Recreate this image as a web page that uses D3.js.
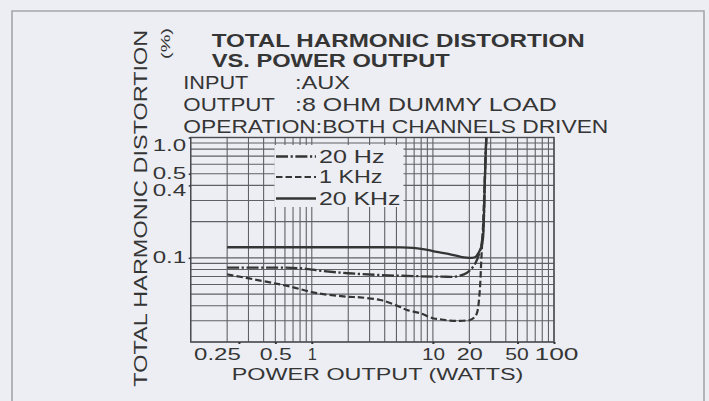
<!DOCTYPE html>
<html>
<head>
<meta charset="utf-8">
<script src="https://cdn.jsdelivr.net/npm/d3@7"></script>
<style>
  html, body { margin: 0; padding: 0; background: #eceef3; }
  svg { display: block; }
  text { font-family: "Liberation Sans", Arial, Helvetica, sans-serif; fill: #353535; }
</style>
</head>
<body>
<svg id="chart" width="709" height="401"></svg>
<script>
// ---- data ----
const powerTicks      = [0.25, 0.5, 1, 10, 20, 50, 100];
const powerTickLabels = ["0.25", "0.5", "1", "10", "20", "50", "100"];
const thdTicks        = [1.0, 0.5, 0.4, 0.1];
const thdTickLabels   = ["1.0", "0.5", "0.4", "0.1"];

const seriesNames = ["20 Hz", "1 KHz", "20 KHz"];

// 20 Hz (dash-dot)
const watts20Hz = [0.2, 0.5, 0.8, 1.2, 2, 3.7, 8, 12, 15, 17, 19, 20.3, 22.4, 24.6, 25.7, 26.3, 26.7, 27.1, 27.6];
const thd20Hz   = [0.083, 0.083, 0.082, 0.078, 0.0745, 0.072, 0.0703, 0.0698, 0.0698, 0.0715, 0.075, 0.079, 0.090, 0.116, 0.15, 0.2, 0.35, 0.6, 1.0];

// 1 KHz (dashed)
const watts1kHz = [0.2, 0.42, 0.66, 1.1, 1.95, 2.5, 3.67, 4.2, 5.3, 6.1, 7.85, 10, 11.5, 13.9, 17, 20.3, 22, 23.1, 24.3, 25.1, 25.9, 26.4, 26.8, 27.1, 27.6];
const thd1kHz   = [0.073, 0.0634, 0.0578, 0.051, 0.0476, 0.047, 0.0447, 0.043, 0.0393, 0.0369, 0.0347, 0.0315, 0.0309, 0.0301, 0.030, 0.0305, 0.032, 0.0347, 0.0511, 0.096, 0.18, 0.3, 0.45, 0.6, 1.0];

// 20 KHz (solid)
const watts20kHz = [0.2, 1, 3, 5.5, 8, 10, 13.9, 17, 21, 22.5, 23.7, 25.4, 26.0, 26.3, 26.7, 27.1, 27.6];
const thd20kHz   = [0.1225, 0.1225, 0.1225, 0.122, 0.119, 0.114, 0.107, 0.102, 0.100, 0.102, 0.109, 0.128, 0.15, 0.2, 0.35, 0.6, 1.0];

// ---- layout ----
const svg = d3.select("#chart");
const plot = { left: 190.7, right: 554, top: 137.5, bottom: 342 };
const ink = "#353535";
const gridInk = "#5f6166";

const x = d3.scaleLog().domain([0.1, 100]).range([plot.left, plot.right]);
const y = d3.scaleLog().domain([0.02, 1]).range([plot.bottom, plot.top]);

// page frame
svg.append("path")
  .attr("d", "M12,401 V11 H704 V401")
  .attr("fill", "none").attr("stroke", "#a4a6ab").attr("stroke-width", 1.6);

// ---- titles ----
function fitText(sel, len) {
  sel.attr("textLength", len).attr("lengthAdjust", "spacingAndGlyphs");
  return sel;
}
const head = svg.append("g");
fitText(head.append("text").attr("x", 211.7).attr("y", 46.7)
  .attr("font-size", 18.5).attr("font-weight", "bold")
  .text("TOTAL HARMONIC DISTORTION"), 373);
fitText(head.append("text").attr("x", 211.7).attr("y", 66.7)
  .attr("font-size", 18.5).attr("font-weight", "bold")
  .text("VS. POWER OUTPUT"), 238);
fitText(head.append("text").attr("x", 183.3).attr("y", 89.3)
  .attr("font-size", 18.5).text("INPUT"), 65);
fitText(head.append("text").attr("x", 295).attr("y", 89.3)
  .attr("font-size", 18.5).text(":AUX"), 55);
fitText(head.append("text").attr("x", 183.3).attr("y", 111)
  .attr("font-size", 18.5).text("OUTPUT"), 91.7);
fitText(head.append("text").attr("x", 295).attr("y", 111)
  .attr("font-size", 18.5).text(":8 OHM DUMMY LOAD"), 261.7);
fitText(head.append("text").attr("x", 183.3).attr("y", 132.7)
  .attr("font-size", 18.5).text("OPERATION:BOTH CHANNELS DRIVEN"), 425);

// ---- grid ----
const grid = svg.append("g").attr("stroke", gridInk).attr("stroke-width", 1.1).attr("fill", "none");
grid.selectAll("line.v").data(x.ticks()).join("line")
  .attr("x1", d => x(d)).attr("x2", d => x(d))
  .attr("y1", plot.top).attr("y2", plot.bottom);
grid.selectAll("line.h").data(y.ticks()).join("line")
  .attr("x1", plot.left).attr("x2", plot.right)
  .attr("y1", d => y(d)).attr("y2", d => y(d));
grid.append("rect")
  .attr("x", plot.left).attr("y", plot.top)
  .attr("width", plot.right - plot.left).attr("height", plot.bottom - plot.top)
  .attr("stroke", "#4a4c51").attr("stroke-width", 1.4);

// ---- axes ----
const labelLen = { "0.25": 46.7, "0.5": 32, "1": 6, "10": 23, "20": 26, "50": 23.5, "100": 44 };
const labelShift = { "0.25": -22, "50": -1, "100": 2 };
const xAxis = d3.axisBottom(x)
  .tickValues(powerTicks)
  .tickFormat((d, i) => powerTickLabels[i])
  .tickSize(2).tickPadding(15);
const gx = svg.append("g").attr("transform", `translate(0,${plot.bottom})`).call(xAxis);
gx.select(".domain").remove();
gx.selectAll(".tick line").attr("stroke", ink).attr("stroke-width", 2);
gx.selectAll(".tick text")
  .attr("font-size", 16.3).attr("fill", ink).attr("dy", 0).attr("y", 18)
  .attr("x", function () { return labelShift[this.textContent] || 0; })
  .each(function () {
    const t = this.textContent;
    if (t.length > 1) d3.select(this).attr("textLength", labelLen[t]).attr("lengthAdjust", "spacingAndGlyphs");
  });

const yLabelDy = { "1.0": 12.5, "0.5": 4.8, "0.4": 9.6, "0.1": 4.4 };
const yAxis = d3.axisLeft(y)
  .tickValues(thdTicks)
  .tickFormat((d, i) => thdTickLabels[i])
  .tickSize(2).tickPadding(2.5);
const gy = svg.append("g").attr("transform", `translate(${plot.left},0)`).call(yAxis);
gy.select(".domain").remove();
gy.selectAll(".tick line").attr("stroke", ink).attr("stroke-width", 1.5);
gy.selectAll(".tick text")
  .attr("font-size", 16.3).attr("fill", ink)
  .attr("dy", function () { return yLabelDy[this.textContent]; })
  .attr("textLength", 33.5).attr("lengthAdjust", "spacingAndGlyphs");

// axis titles
fitText(svg.append("text").attr("x", 231.7).attr("y", 380)
  .attr("font-size", 16.3).text("POWER OUTPUT (WATTS)"), 291.6);
fitText(svg.append("text").attr("transform", "translate(147,386.7) rotate(-90)")
  .attr("font-size", 18.5).text("TOTAL HARMONIC DISTORTION"), 357);
fitText(svg.append("text").attr("transform", "translate(169.5,59) rotate(-90)")
  .attr("font-size", 13).text("(%)"), 31);

// ---- legend (box masks the grid behind it) ----
const legend = svg.append("g");
legend.append("rect").attr("x", 274.5).attr("y", 145).attr("width", 129).attr("height", 62)
  .attr("fill", "#eceef3");

const styles = [
  { dash: "12,2.6,2.2,2.6", width: 2.3 },
  { dash: "6.5,3", width: 2.2 },
  { dash: null, width: 2.3 }
];
const legendRows = [156.5, 177, 198.5];
const legendTextLen = [65.5, 63.5, 81.5];
seriesNames.forEach((name, i) => {
  legend.append("line")
    .attr("x1", 276).attr("x2", 316).attr("y1", legendRows[i]).attr("y2", legendRows[i])
    .attr("stroke", ink).attr("stroke-width", styles[i].width)
    .attr("stroke-dasharray", styles[i].dash);
  fitText(legend.append("text").attr("x", 319).attr("y", legendRows[i] + 6.4)
    .attr("font-size", 17.5).text(name), legendTextLen[i]);
});

// ---- curves ----
svg.append("clipPath").attr("id", "plotClip").append("rect")
  .attr("x", plot.left).attr("y", plot.top - 1)
  .attr("width", plot.right - plot.left).attr("height", plot.bottom - plot.top + 1);

const curveData = [
  d3.zip(watts20Hz, thd20Hz),
  d3.zip(watts1kHz, thd1kHz),
  d3.zip(watts20kHz, thd20kHz)
];
const line = d3.line()
  .x(d => x(d[0])).y(d => y(d[1]))
  .curve(d3.curveCatmullRom.alpha(0.5));

const curves = svg.append("g").attr("clip-path", "url(#plotClip)");
[2, 0, 1].forEach(i => {
  curves.append("path")
    .attr("d", line(curveData[i]))
    .attr("fill", "none").attr("stroke", ink)
    .attr("stroke-width", styles[i].width)
    .attr("stroke-dasharray", styles[i].dash)
    .attr("stroke-linejoin", "round");
});
</script>
</body>
</html>
